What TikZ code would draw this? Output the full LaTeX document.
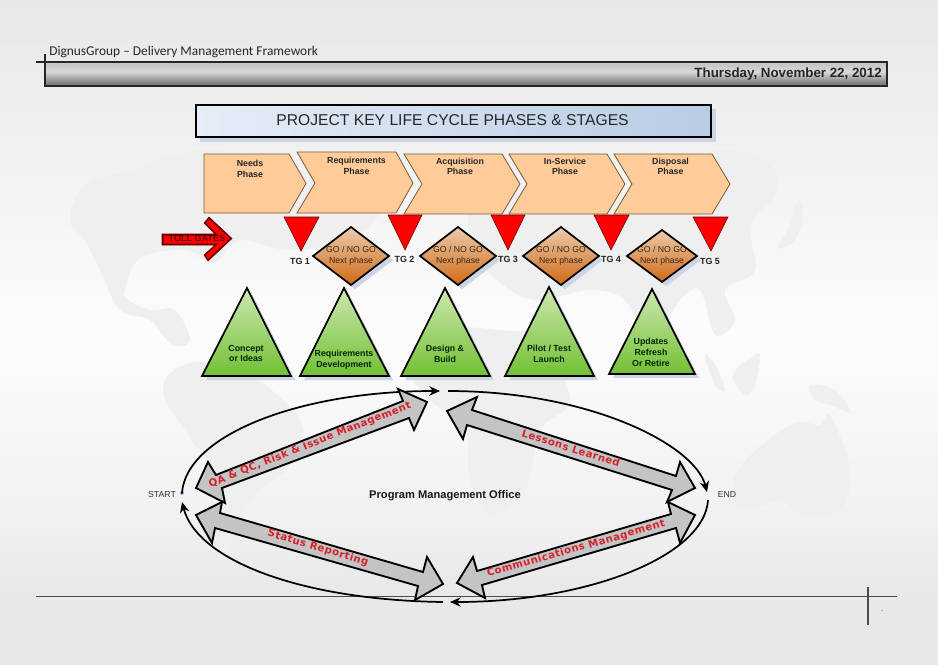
\documentclass[tikz,border=0pt]{standalone}
\usepackage{fontspec}
\setmainfont{Liberation Sans}
\newfontfamily\headfont{Carlito}
\newfontfamily\redfont[LetterSpace=5]{DejaVu Sans}
\usetikzlibrary{arrows.meta}
\definecolor{pgA}{HTML}{E8E8E8}
\definecolor{pgB}{HTML}{F2F2F2}
\definecolor{pgC}{HTML}{FCFCFC}
\definecolor{hdA}{HTML}{C8C8C8}
\definecolor{hdB}{HTML}{DADADA}
\definecolor{hdC}{HTML}{7E7E7E}
\definecolor{chev}{HTML}{FFCC99}
\definecolor{chevline}{HTML}{7A5A3A}
\definecolor{shadowc}{HTML}{CCD5E3}
\definecolor{land}{HTML}{EFEFEF}
\definecolor{labelred}{HTML}{D8202A}
\definecolor{diatop}{HTML}{EBCBAE}
\definecolor{diabot}{HTML}{D06A16}
\definecolor{tritop}{HTML}{CDE8B0}
\definecolor{tribot}{HTML}{72C034}
\definecolor{titleL}{HTML}{E6EDF7}
\definecolor{titleR}{HTML}{B8CCE4}
\pgfdeclareverticalshading{pagebg}{100bp}{color(0bp)=(pgA); color(25bp)=(pgA); color(30bp)=(pgA); color(37bp)=(pgB); color(50bp)=(pgC); color(62bp)=(pgB); color(75bp)=(pgA); color(100bp)=(pgA)}
\pgfdeclareverticalshading{headbg}{100bp}{color(0bp)=(hdC); color(25bp)=(hdC); color(31bp)=(hdC); color(55bp)=(hdB); color(69bp)=(hdA); color(75bp)=(hdA); color(100bp)=(hdA)}
\tikzset{
  chevron/.style={fill=chev,draw=chevline,line width=0.6pt},
  gate/.style={fill=red,draw=black!60!red,line width=0.4pt},
  dia/.style={top color=diatop,bottom color=diabot,draw=black,line width=1.3pt,line join=miter},
  tri/.style={top color=tritop,bottom color=tribot,draw=black,line width=1.3pt,line join=miter},
  shadowshape/.style={fill=shadowc},
  phase/.style={font=\fontsize{6.6}{8}\selectfont\bfseries,text=black!85,align=center,inner sep=0pt},
  gatelabel/.style={font=\fontsize{6.7}{8}\selectfont\bfseries,text=black!85,inner sep=0pt},
  gotext/.style={font=\fontsize{6.5}{8.2}\selectfont,text=black!70!brown,align=center,inner sep=0pt},
  tritext/.style={font=\fontsize{6.6}{8.1}\selectfont\bfseries,text=black!85!green,align=center,inner sep=0pt},
  blockarrow/.style={fill=black!23,draw=black,line width=1.4pt,line join=miter},
  redlabel/.style={font=\redfont\fontsize{7.6}{9}\selectfont\bfseries,text=labelred,inner sep=0pt},
  ring/.style={draw=black,line width=1.3pt,-{Stealth[length=8pt,width=7pt]}},
  sidelabel/.style={font=\fontsize{6.5}{8}\selectfont,text=black!80,inner sep=0pt},
}
\begin{document}
\begin{tikzpicture}[x=0.75pt,y=-0.75pt]
\useasboundingbox (0,0) rectangle (938,664);
% page background
\path[shading=pagebg] (0,0) rectangle (938,664);
% faint world map
\fill[land] plot[smooth cycle,tension=0.6] coordinates {(70,220)(85,185)(130,170)(210,150)(300,170)(380,200)(350,240)(290,250)(240,240)(215,262)(185,250)(140,258)(125,290)(128,300)(150,310)(175,310)(190,340)(172,345)(150,320)(120,310)(100,270)(85,240)};
\fill[land] plot[smooth cycle,tension=0.6] coordinates {(168,375)(200,362)(250,375)(300,420)(295,460)(260,490)(240,520)(225,560)(215,540)(222,490)(185,430)(165,400)};
\fill[land] plot[smooth cycle,tension=0.6] coordinates {(470,210)(520,190)(600,200)(650,180)(720,150)(770,165)(775,195)(750,225)(755,270)(725,290)(735,320)(715,335)(700,290)(680,300)(650,340)(625,300)(590,290)(540,300)(510,290)(480,260)};
\fill[land] plot[smooth cycle,tension=0.6] coordinates {(430,330)(500,330)(540,340)(570,400)(540,430)(525,490)(490,515)(470,480)(465,430)(430,400)(410,370)};
\fill[land] plot[smooth cycle,tension=0.6] coordinates {(738,470)(790,425)(820,425)(830,415)(850,470)(840,510)(800,515)(780,500)(738,510)};
\fill[land] plot[smooth cycle,tension=0.6] coordinates {(733,375)(750,358)(760,355)(755,385)(745,395)};
\fill[land] plot[smooth cycle,tension=0.6] coordinates {(810,385)(835,390)(850,412)(830,405)(815,400)};
\fill[land] plot[smooth cycle,tension=0.6] coordinates {(778,248)(790,225)(798,200)(803,215)(795,240)};
\fill[land] plot[smooth cycle,tension=0.6] coordinates {(705,355)(715,365)(725,390)(715,385)};
% frame lines and header
\path[shading=headbg,draw=black!85,line width=0.9pt] (45,62) rectangle (887,86);
\draw[black!85,line width=0.8pt] (36,62) -- (887,62);
\draw[black!85,line width=0.8pt] (45,54) -- (45,86);
\node[font=\headfont\fontsize{10.05}{11}\selectfont,text=black!85,anchor=west,inner sep=0pt] (heading) at (49,52) {DignusGroup – Delivery Management Framework};
\node[font=\fontsize{10}{11}\selectfont\bfseries,text=black!85,anchor=east,inner sep=0pt] (datelabel) at (882,74) {Thursday, November 22, 2012};
\draw[black!70,line width=0.9pt] (36,596.5) -- (897,596.5);
\draw[black!70,line width=1pt] (868,587) -- (868,625);
\node[font=\fontsize{6}{7}\selectfont,text=black!70,inner sep=0pt] (dotmark) at (882,611) {.};
% title
\fill[shadowshape] (200,109) rectangle (716,142);
\path[left color=titleL,right color=titleR,draw=black,line width=1.5pt] (196,105) rectangle (711,137);
\node[font=\fontsize{11.75}{14}\selectfont,text=black!85,inner sep=0pt] (title) at (452.5,120) {PROJECT KEY LIFE CYCLE PHASES \& STAGES};
% phase chevrons
\draw[chevron] (204,154) -- (289,154) -- (306,183.5) -- (289,213) -- (204,213) -- cycle;
\draw[chevron] (297,152) -- (396,152) -- (413,183) -- (396,213) -- (297,213) -- (315,183) -- cycle;
\draw[chevron] (404,154) -- (502,154) -- (520,184) -- (502,214) -- (404,214) -- (422,184) -- cycle;
\draw[chevron] (509,154) -- (607,154) -- (625,184) -- (607,214) -- (509,214) -- (527,184) -- cycle;
\draw[chevron] (614,154) -- (712,154) -- (730,184) -- (712,214) -- (614,214) -- (632,184) -- cycle;
\node[phase] (p1) at (250,169) {Needs\\Phase};
\node[phase] (p2) at (356.5,166) {Requirements\\Phase};
\node[phase] (p3) at (460,166.5) {Acquisition\\Phase};
\node[phase] (p4) at (565,166.5) {In-Service\\Phase};
\node[phase] (p5) at (670.5,166.5) {Disposal\\Phase};
% toll gates arrow
\fill[black!60!red,draw=black!60!red] (162,234) -- (215,234) -- (204,223) -- (209,217) -- (232,238.5) -- (208,261) -- (204,255) -- (215,245) -- (162,245) -- cycle;
\fill[red] (163.5,235.5) -- (218.5,235.5) -- (206,223) -- (209,219) -- (230,238.5) -- (208,259) -- (205.5,255) -- (218.5,243.5) -- (163.5,243.5) -- cycle;
\node[font=\fontsize{6.8}{8}\selectfont\bfseries,text=black!65!red,inner sep=0pt] (tollgates) at (197,238) {TOLL GATES};
% red gates
\draw[gate] (284,217) -- (319,217) -- (301,251) -- cycle;
\draw[gate] (388,215) -- (422,215) -- (405,250) -- cycle;
\draw[gate] (491,215) -- (525,215) -- (508,250) -- cycle;
\draw[gate] (594,215) -- (629,215) -- (611,250) -- cycle;
\draw[gate] (693,217) -- (728,217) -- (711,251) -- cycle;
\node[gatelabel] (tg1) at (300,261) {TG 1};
\node[gatelabel] (tg2) at (404.5,259) {TG 2};
\node[gatelabel] (tg3) at (508,259) {TG 3};
\node[gatelabel] (tg4) at (611,259) {TG 4};
\node[gatelabel] (tg5) at (710,261) {TG 5};
% decision diamonds
\foreach \cx/\hw/\hh in {351/38/29,458/38/29,561/38/29,662/35/26}{
  \fill[shadowshape] (\cx-\hw+4,256+4) -- (\cx+4,256-\hh+4) -- (\cx+\hw+4,256+4) -- (\cx+4,256+\hh+4) -- cycle;
  \path[dia] (\cx-\hw,256) -- (\cx,256-\hh) -- (\cx+\hw,256) -- (\cx,256+\hh) -- cycle;
}
\node[gotext] (d1) at (351,255.5) {GO / NO GO\\Next phase};
\node[gotext] (d2) at (458,255.5) {GO / NO GO\\Next phase};
\node[gotext] (d3) at (561,255.5) {GO / NO GO\\Next phase};
\node[gotext] (d4) at (662,255.5) {GO / NO GO\\Next phase};
% stage triangles
\foreach \ax/\ay/\lx/\rx/\by in {247/288/202/291/376,344/288/300/389/376,445/288/401/490/376,549/287/505/594/376,652/289/609/695/374}{
  \fill[shadowshape] (\ax+4,\ay+4) -- (\rx+4,\by+4) -- (\lx+4,\by+4) -- cycle;
  \path[tri] (\ax,\ay) -- (\rx,\by) -- (\lx,\by) -- cycle;
}
\node[tritext] (t1) at (246,353.5) {Concept\\or Ideas};
\node[tritext] (t2) at (344,359.5) {Requirements\\Development};
\node[tritext] (t3) at (445,353.5) {Design \&\\Build};
\node[tritext] (t4) at (549,353.5) {Pilot / Test\\Launch};
\node[tritext] (t5) at (651,352.5) {Updates\\Refresh\\Or Retire};
% ring
\node[sidelabel] (startlabel) at (162,495) {START};
\node[sidelabel] (endlabel) at (727,495) {END};
\node[font=\fontsize{8.35}{9}\selectfont\bfseries,text=black!90,inner sep=0pt] (pmo) at (445,496) {Program Management Office};
\fill[blue!50!black!70] (182,493) circle (1.8);
\coordinate (startdot) at (182,493);
\coordinate (topleft) at (440,391);
\coordinate (topright) at (448,391);
\coordinate (endtop) at (707,492);
\coordinate (endbot) at (708,500);
\coordinate (botright) at (450,602);
\coordinate (botleft) at (443,602);
\coordinate (startbot) at (182,502);
\draw[ring] (startdot) .. controls (186,435) and (300,391) .. (topleft);
\draw[ring] (topright) .. controls (590,391) and (695,445) .. (endtop);
\draw[ring] (endbot) .. controls (705,555) and (590,602) .. (botright);
\draw[ring] (botleft) .. controls (300,600) and (197,560) .. (startbot);
% block arrows
\path[blockarrow] (196,488) -- (208,462) -- (216,475) -- (403,401) -- (398,389) -- (427,402) -- (414,430) -- (409,418) -- (222,488) -- (225,503) -- cycle;
\path[blockarrow] (196,515) -- (222,502) -- (220,513) -- (423,572) -- (427,557) -- (443,584) -- (415,600) -- (418,586) -- (215,528) -- (212,543) -- cycle;
\path[blockarrow] (447,411) -- (477,397) -- (472,410) -- (676,476) -- (680,462) -- (695,488) -- (667,502) -- (672,490) -- (467,425) -- (463,439) -- cycle;
\path[blockarrow] (695,515) -- (668,502) -- (671,514) -- (477,571) -- (473,557) -- (457,583) -- (485,598) -- (482,585) -- (676,528) -- (680,543) -- cycle;
\node[redlabel,rotate=21.6] (qa) at (310,445) {QA \& QC, Risk \& Issue Management};
\node[redlabel,rotate=-16.5] (status) at (318,548) {Status Reporting};
\node[redlabel,rotate=-17.6] (lessons) at (571,448) {Lessons Learned};
\node[redlabel,rotate=15.9] (comms) at (576,549) {Communications Management};
\end{tikzpicture}
\end{document}
